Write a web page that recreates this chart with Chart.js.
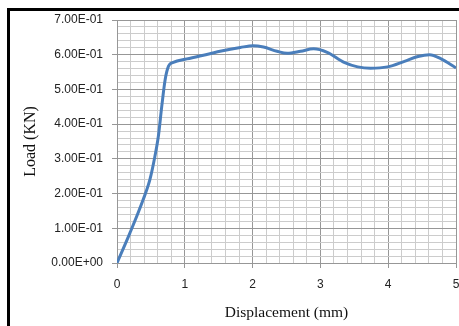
<!DOCTYPE html>
<html>
<head>
<meta charset="utf-8">
<script src="https://cdn.jsdelivr.net/npm/chart.js@4.4.1/dist/chart.umd.min.js"></script>
<style>
  html, body { margin: 0; padding: 0; background: #fff; overflow: hidden; }
  #frame {
    position: absolute; left: 7px; top: 8px; width: 600px; height: 400px;
    border-left: 3px solid #000; border-top: 3px solid #000;
  }
  #wrap { position: absolute; left: 0; top: 0; width: 459px; height: 326px; }
</style>
</head>
<body>
<div id="frame"></div>
<div id="wrap"><canvas id="myChart"></canvas></div>
<script>
// displacement (mm) and load (KN)
const displacement = [0, 0.19, 0.385, 0.485, 0.55, 0.61, 0.66, 0.71, 0.76, 0.83, 1.03, 1.37, 1.52, 1.82, 2.01,
  2.16, 2.36, 2.51, 2.71, 2.9, 3.1, 3.35, 3.55, 3.74, 3.99, 4.24, 4.44, 4.61, 4.78, 5.0];
const load = [0, 0.086, 0.182, 0.24, 0.298, 0.365, 0.451, 0.528, 0.567, 0.578, 0.588, 0.603, 0.61, 0.621, 0.626,
  0.622, 0.61, 0.604, 0.61, 0.617, 0.607, 0.578, 0.565, 0.561, 0.565, 0.581, 0.595, 0.6, 0.588, 0.562];

const xTickLabels = ["0", "1", "2", "3", "4", "5"];
const yTickLabels = ["0.00E+00", "1.00E-01", "2.00E-01", "3.00E-01", "4.00E-01", "5.00E-01", "6.00E-01", "7.00E-01"];

const majorColor = "#979797";
const minorColor = "#cccccc";

const points = displacement.map((d, i) => ({ x: d, y: load[i] }));

const config = {
  type: "line",
  data: {
    datasets: [
      {
        label: "Load",
        data: points,
        borderColor: "#4a7ebb",
        borderWidth: 3,
        pointRadius: 0,
        fill: false,
        cubicInterpolationMode: "monotone",
      },
    ],
  },
  options: {
    responsive: true,
    maintainAspectRatio: false,
    animation: false,
    layout: { padding: { left: 21, top: 20, right: 3, bottom: 4 } },
    plugins: { legend: { display: false }, tooltip: { enabled: false } },
    scales: {
      x: {
        type: "linear",
        min: 0,
        max: 5,
        afterFit: (scale) => {
          scale.height = 59;
          scale.paddingLeft = 0;
          scale.paddingRight = 0;
        },
        ticks: {
          stepSize: 0.2,
          autoSkip: false,
          maxRotation: 0,
          padding: 9,
          color: "#222",
          font: { family: "Liberation Sans", size: 12 },
          callback: (v, i) => (i % 5 === 0 ? xTickLabels[i / 5] : ""),
        },
        grid: {
          color: (ctx) => (ctx.index % 5 === 0 ? majorColor : minorColor),
          tickColor: (ctx) => (ctx.index % 5 === 0 ? majorColor : "rgba(0,0,0,0)"),
          tickLength: 5,
          lineWidth: 1,
        },
        border: { color: majorColor },
        title: {
          display: true,
          text: "Displacement (mm)",
          color: "#111",
          font: { family: "Liberation Serif", size: 15.5 },
          padding: { top: 0, bottom: 0 },
        },
      },
      y: {
        min: 0,
        max: 0.7,
        afterFit: (scale) => {
          scale.width = 117 - 21;
          scale.paddingTop = 0;
          scale.paddingBottom = 0;
        },
        ticks: {
          stepSize: 0.02,
          autoSkip: false,
          padding: 9,
          color: "#222",
          font: { family: "Liberation Sans", size: 12 },
          callback: (v, i) => (i % 5 === 0 ? yTickLabels[i / 5] : ""),
        },
        grid: {
          color: (ctx) => (ctx.index % 5 === 0 ? majorColor : minorColor),
          tickColor: (ctx) => (ctx.index % 5 === 0 ? majorColor : "rgba(0,0,0,0)"),
          tickLength: 5,
          lineWidth: 1,
        },
        border: { color: majorColor },
        title: {
          display: true,
          text: "Load (KN)",
          color: "#111",
          font: { family: "Liberation Serif", size: 16 },
          padding: { top: 0, bottom: 0 },
        },
      },
    },
  },
};

const myChart = new Chart(document.getElementById("myChart"), config);
</script>
</body>
</html>
